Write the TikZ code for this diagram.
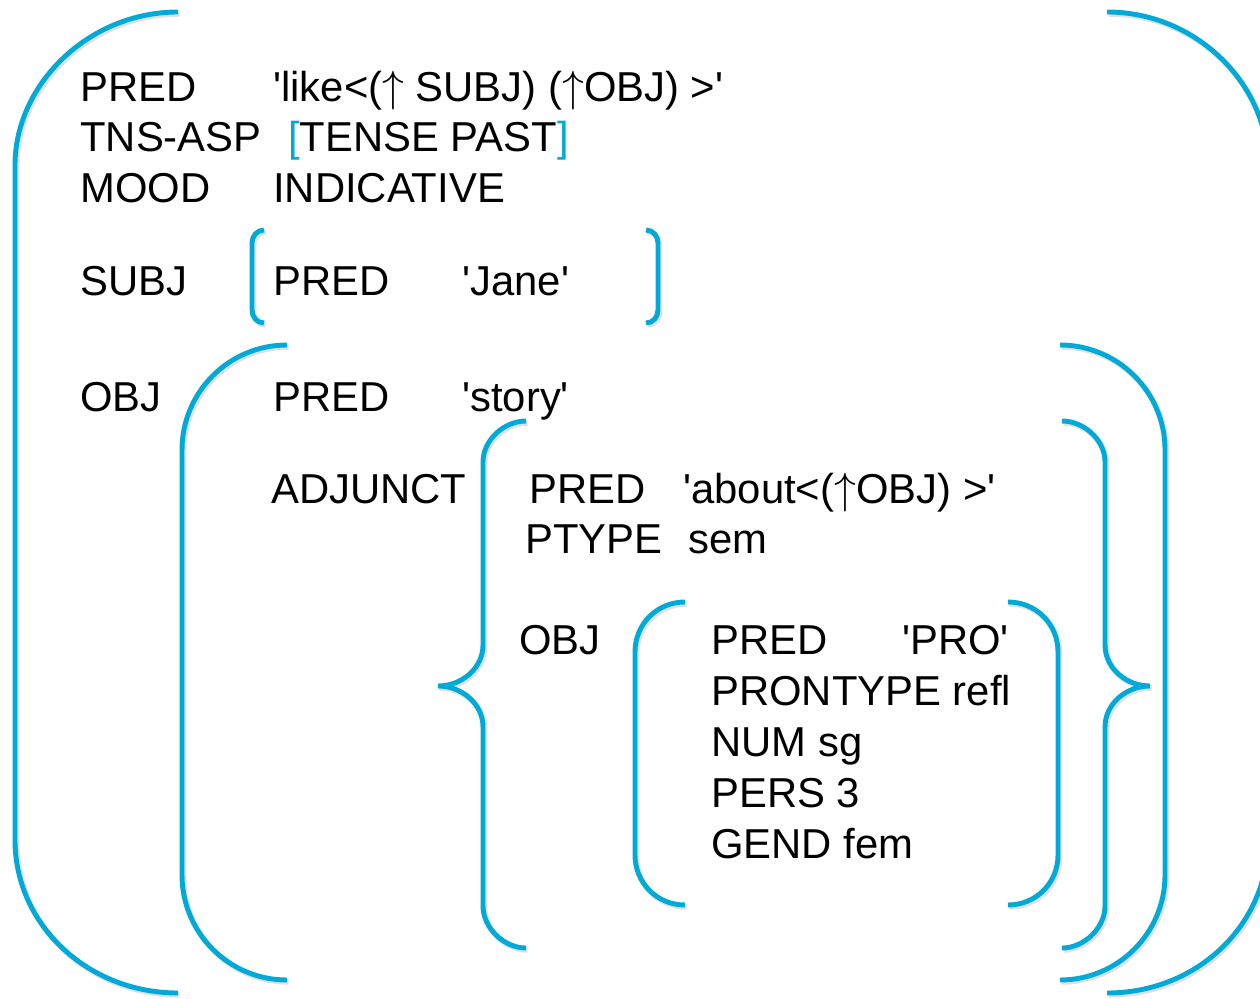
\documentclass[tikz,border=0pt]{standalone}
\usepackage{fontspec}
\setmainfont{Liberation Sans}
\usepackage{xcolor}
\usepackage{tikz}
\definecolor{fsblue}{RGB}{0,170,216}
\newcommand{\uparr}{$\uparrow$}
\newcommand{\qt}{\textquotesingle}
\tikzset{
  att/.style={anchor=base west,inner sep=0pt,font=\fontsize{23.8}{28}\selectfont},
  brk/.style={draw=fsblue,line width=2.8pt,
    preaction={draw=black!12,line width=3.2pt,transform canvas={xshift=0.9pt,yshift=-1.1pt}}}
}

\begin{document}
\begin{tikzpicture}[x=0.02cm,y=-0.02cm]
\useasboundingbox (0,0) rectangle (1260,999);
% outer f-structure
\node[att] (pred) at (80,102) {PRED};
\node[att] (predval) at (273,102) {\qt like<(\uparr\ SUBJ) (\uparr OBJ) >\qt};
\node[att] (tns) at (80,152) {TNS-ASP};
\node[att] (tnsval) at (288,152) {{\color{fsblue}[}TENSE PAST{\color{fsblue}]}};
\node[att] (mood) at (80,203) {MOOD};
\node[att] (moodval) at (273,203) {INDICATIVE};
\node[att] (subj) at (80,296) {SUBJ};
\node[att] (subjpred) at (273,296) {PRED};
\node[att] (subjval) at (462,296) {\qt Jane\qt};
\node[att] (obj) at (80,412) {OBJ};
\node[att] (objpred) at (273,412) {PRED};
\node[att] (objval) at (462,412) {\qt story\qt};
\node[att] (adj) at (271,503) {ADJUNCT};
% member of the adjunct set
\node[att] (adjpred) at (529,503) {PRED};
\node[att] (adjval) at (683,503) {\qt about<(\uparr OBJ) >\qt};
\node[att] (ptype) at (525,553) {PTYPE};
\node[att] (ptypeval) at (688,553) {sem};
\node[att] (adjobj) at (519,654) {OBJ};
\node[att] (propred) at (711,654) {PRED};
\node[att] (proval) at (902,654) {\qt PRO\qt};
\node[att] (prontype) at (711,705) {PRONTYPE refl};
\node[att] (num) at (711,756) {NUM sg};
\node[att] (pers) at (711,807) {PERS 3};
\node[att] (gend) at (711,858) {GEND fem};

% brackets
\draw[brk] (178,12) .. controls (88,12) and (15,85) .. (15,165) -- (15,840)
  .. controls (15,925) and (88,993) .. (178,993);
\draw[brk] (1107,12) .. controls (1197,12) and (1268,85) .. (1268,165) -- (1268,840)
  .. controls (1268,925) and (1197,993) .. (1107,993);
\draw[brk] (264,230) .. controls (257,230) and (252,236) .. (252,243) -- (252,310)
  .. controls (252,317) and (257,323) .. (264,323);
\draw[brk] (646,230) .. controls (653,230) and (658,236) .. (658,243) -- (658,310)
  .. controls (658,317) and (653,323) .. (646,323);
\draw[brk] (287,345) .. controls (229,345) and (182,392) .. (182,450) -- (182,875)
  .. controls (182,933) and (229,980) .. (287,980);
\draw[brk] (1060,345) .. controls (1118,345) and (1165,392) .. (1165,450) -- (1165,875)
  .. controls (1165,933) and (1118,980) .. (1060,980);
% set braces
\draw[brk] (526,421) .. controls (504,421) and (483,440) .. (483,462) -- (483,645)
  .. controls (483,668) and (462,686) .. (438,686)
  .. controls (462,686) and (483,704) .. (483,727) -- (483,906)
  .. controls (483,928) and (504,948) .. (526,948);
\draw[brk] (1062,421) .. controls (1084,421) and (1105,440) .. (1105,462) -- (1105,645)
  .. controls (1105,668) and (1126,686) .. (1150,686)
  .. controls (1126,686) and (1105,704) .. (1105,727) -- (1105,906)
  .. controls (1105,928) and (1084,948) .. (1062,948);
\draw[brk] (685,602) .. controls (657,602) and (635,624) .. (635,652) -- (635,855)
  .. controls (635,883) and (657,905) .. (685,905);
\draw[brk] (1008,602) .. controls (1036,602) and (1058,624) .. (1058,652) -- (1058,855)
  .. controls (1058,883) and (1036,905) .. (1008,905);
\end{tikzpicture}
\end{document}
